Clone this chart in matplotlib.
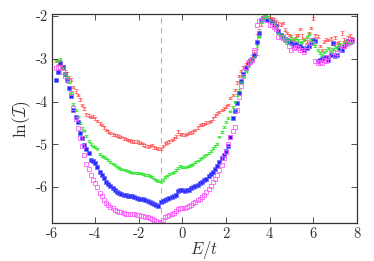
import matplotlib
matplotlib.use("Agg")
import matplotlib.pyplot as plt
import numpy as np

plt.rcParams['font.family'] = 'cmr10'
plt.rcParams['mathtext.fontset'] = 'cm'
plt.rcParams['axes.unicode_minus'] = False

# energie-gitter E/t
energy = np.round(np.arange(-5.8, 7.85, 0.1), 1)

red_vals = [
    -3.05, -3.08, -3.15, -3.18, -3.30, -3.37, -3.44, -3.49, -3.66, -3.76,
    -3.85, -3.95, -4.08, -4.16, -4.30, -4.33, -4.36, -4.35, -4.39, -4.45,
    -4.51, -4.55, -4.60, -4.66, -4.70, -4.74, -4.77, -4.78, -4.80, -4.82,
    -4.83, -4.86, -4.88, -4.90, -4.91, -4.93, -4.94, -4.94, -4.96, -4.97,
    -5.00, -5.03, -5.05, -5.04, -5.02, -5.07, -5.09, -5.10, -5.11, -5.04,
    -4.98, -4.96, -4.93, -4.90, -4.86, -4.82, -4.70, -4.76, -4.77, -4.78,
    -4.76, -4.74, -4.72, -4.70, -4.66, -4.60, -4.55, -4.54, -4.52, -4.49,
    -4.48, -4.45, -4.39, -4.33, -4.28, -4.24, -4.20, -4.16, -4.12, -4.08,
    -3.92, -3.85, -3.73, -3.55, -3.40, -3.28, -3.20, -3.12, -3.06, -3.02,
    -2.95, -2.87, -2.67, -2.40, -2.20, -2.05, -1.98, -2.02, -2.05, -2.06,
    -2.08, -2.12, -2.18, -2.20, -2.16, -2.32, -2.40, -2.44, -2.50, -2.55,
    -2.46, -2.44, -2.30, -2.48, -2.55, -2.60, -2.40, -2.28, -2.06, -2.45,
    -2.48, -2.70, -2.79, -2.60, -2.55, -2.56, -2.52, -2.65, -2.50, -2.63,
    -2.62, -2.40, -2.55, -2.60, -2.50, -2.45, -2.52,
]

green_vals = [
    -3.05, -3.04, -3.02, -3.22, -3.36, -3.42, -3.55, -3.80, -4.05, -4.20,
    -4.35, -4.50, -4.62, -4.68, -4.80, -4.92, -5.00, -5.05, -5.07, -5.10,
    -5.22, -5.27, -5.30, -5.33, -5.37, -5.42, -5.45, -5.49, -5.52, -5.55,
    -5.57, -5.59, -5.61, -5.63, -5.65, -5.66, -5.66, -5.67, -5.68, -5.68,
    -5.70, -5.71, -5.72, -5.74, -5.77, -5.80, -5.83, -5.86, -5.87, -5.84,
    -5.76, -5.73, -5.70, -5.67, -5.64, -5.60, -5.55, -5.51, -5.53, -5.54,
    -5.52, -5.50, -5.49, -5.46, -5.42, -5.38, -5.35, -5.31, -5.27, -5.24,
    -5.20, -5.15, -5.09, -5.04, -4.99, -4.82, -4.72, -4.59, -4.48, -4.39,
    -4.23, -4.12, -4.00, -3.85, -3.73, -3.55, -3.40, -3.30, -3.17, -3.08,
    -3.00, -2.95, -2.70, -2.48, -2.15, -2.05, -2.00, -2.02, -2.10, -2.14,
    -2.18, -2.26, -2.39, -2.45, -2.48, -2.55, -2.63, -2.57, -2.52, -2.55,
    -2.52, -2.56, -2.63, -2.60, -2.55, -2.48, -2.42, -2.55, -2.63, -2.70,
    -2.80, -2.87, -2.92, -2.85, -2.79, -2.75, -2.82, -2.78, -2.72, -2.75,
    -2.65, -2.68, -2.62, -2.59, -2.64, -2.63, -2.60,
]

blue_vals = [
    -3.49, -3.30, -3.10, -3.18, -3.35, -3.50, -3.69, -3.88, -4.20, -4.35,
    -4.48, -4.74, -4.85, -5.01, -5.10, -5.20, -5.36, -5.40, -5.44, -5.52,
    -5.64, -5.72, -5.78, -5.87, -5.93, -5.98, -6.03, -6.07, -6.11, -6.14,
    -6.16, -6.18, -6.19, -6.20, -6.20, -6.21, -6.23, -6.25, -6.27, -6.28,
    -6.29, -6.30, -6.32, -6.34, -6.37, -6.40, -6.43, -6.45, -6.35, -6.33,
    -6.30, -6.28, -6.26, -6.24, -6.22, -6.18, -6.10, -6.07, -6.08, -6.09,
    -6.08, -6.06, -6.03, -6.00, -5.97, -5.94, -5.91, -5.87, -5.83, -5.80,
    -5.75, -5.70, -5.64, -5.57, -5.50, -5.42, -5.33, -5.25, -5.15, -5.05,
    -4.82, -4.39, -4.22, -4.04, -3.80, -3.53, -3.35, -3.22, -3.12, -3.06,
    -3.00, -2.91, -2.60, -2.40, -2.09, -2.05, -2.08, -2.10, -2.09, -2.15,
    -2.20, -2.24, -2.35, -2.44, -2.50, -2.53, -2.55, -2.60, -2.63, -2.68,
    -2.66, -2.70, -2.71, -2.75, -2.80, -2.75, -2.71, -2.63, -2.55, -2.58,
    -3.06, -3.02, -3.00, -2.98, -2.95, -3.02, -2.90, -2.63, -2.94, -2.91,
    -2.75, -2.80, -2.71, -2.65, -2.59, -2.60, -2.56,
]

magenta_vals = [
    -3.22, -3.20, -3.18, -3.30, -3.40, -3.47, -3.53, -3.80, -4.15, -4.40,
    -4.62, -4.85, -5.05, -5.25, -5.45, -5.58, -5.72, -5.84, -5.90, -6.00,
    -6.13, -6.22, -6.30, -6.38, -6.42, -6.46, -6.50, -6.53, -6.56, -6.58,
    -6.59, -6.60, -6.62, -6.62, -6.63, -6.64, -6.64, -6.65, -6.66, -6.67,
    -6.68, -6.69, -6.70, -6.72, -6.74, -6.77, -6.80, -6.84, -6.82, -6.76,
    -6.70, -6.68, -6.66, -6.64, -6.61, -6.57, -6.52, -6.50, -6.50, -6.49,
    -6.47, -6.45, -6.42, -6.38, -6.35, -6.31, -6.28, -6.24, -6.18, -6.11,
    -6.05, -5.97, -5.88, -5.80, -5.72, -5.60, -5.48, -5.33, -5.17, -5.00,
    -4.82, -4.70, -4.59, -4.20, -3.90, -3.63, -3.40, -3.20, -3.10, -3.07,
    -3.02, -2.80, -2.20, -2.12, -2.09, -2.05, -2.00, -2.10, -2.20, -2.22,
    -2.25, -2.30, -2.48, -2.50, -2.52, -2.55, -2.60, -2.70, -2.79, -2.75,
    -2.72, -2.75, -2.80, -2.79, -2.85, -2.70, -2.55, -2.62, -2.62, -3.05,
    -3.10, -3.08, -3.10, -3.02, -3.06, -2.95, -2.79, -2.85, -2.91, -2.86,
    -2.78, -2.71, -2.70, -2.65, -2.62, -2.59, -2.58,
]

# fejl: lille standard, nogle enkelte store
red_err = [0.03] * len(energy)
for e, s in {-5.6: 0.12, -5.3: 0.06, -4.9: 0.05, 3.3: 0.08, 3.4: 0.25, 3.5: 0.1,
             5.0: 0.05, 5.5: 0.06, 6.0: 0.04, 7.3: 0.05}.items():
    red_err[int(round((e + 5.8) * 10))] = s
green_err = [0.02] * len(energy)
for e, s in {-5.6: 0.05, 3.4: 0.06, 4.0: 0.04}.items():
    green_err[int(round((e + 5.8) * 10))] = s

fig = plt.figure(figsize=(3.74, 2.61), dpi=100)
ax = fig.add_axes([0.138, 0.144, 0.816, 0.801])

ax.axvline(-1, color='#b4b4b4', ls=(0, (5, 4)), lw=0.8, zorder=0)

ax.errorbar(energy, red_vals, yerr=red_err, fmt='+', color='#ff5050', ms=2.0, mew=0.6,
            elinewidth=0.55, capsize=1.2, capthick=0.55, alpha=0.8)
ax.errorbar(energy, green_vals, yerr=green_err, fmt='x', color='#30e830', ms=1.9, mew=0.6,
            elinewidth=0.55, capsize=1.2, capthick=0.55, alpha=0.8)
ax.plot(energy, blue_vals, 's', color='#2222ff', mfc='#2a2aff', mec='#6060ff', ms=2.3, mew=0.4)
ax.plot(energy, magenta_vals, 's', mfc='none', mec='#ff5cff', ms=3.2, mew=0.6)

ax.set_xlim(-6, 8)
ax.set_ylim(-6.85, -1.96)

xticks = [-6, -4, -2, 0, 2, 4, 6, 8]
yticks = [-6, -5, -4, -3, -2]
ax.set_xticks(xticks)
ax.set_xticklabels([str(t) for t in xticks])
ax.set_yticks(yticks)
ax.set_yticklabels([str(t) for t in yticks])

ax.tick_params(direction='in', top=True, right=True, length=4, width=0.6,
               labelsize=10.5, colors='#333333', pad=2.5)
for s in ax.spines.values():
    s.set_color('#333333')
    s.set_linewidth(0.9)

ax.set_xlabel(r'$E/t$', fontsize=12, color='#333333', labelpad=-1.5)
ax.set_ylabel(r'$\ln(\mathcal{I})$', fontsize=12.5, color='#333333', labelpad=2)

fig.savefig('out.png', dpi=100)
